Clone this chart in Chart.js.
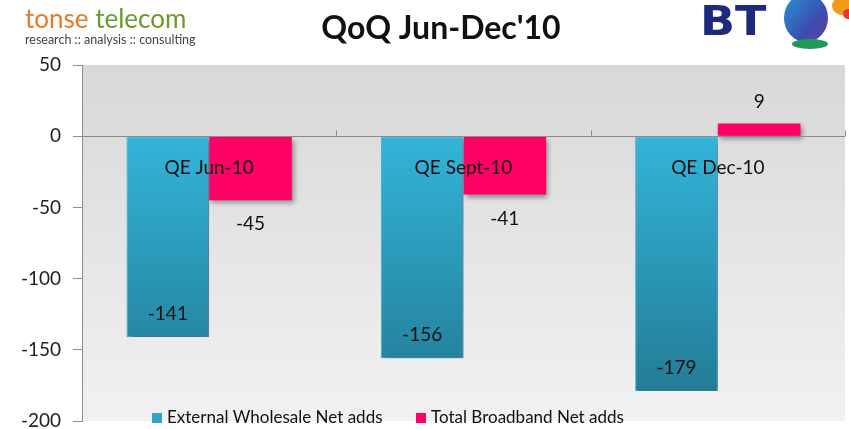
<!DOCTYPE html>
<html>
<head>
<meta charset="utf-8">
<script src="https://cdn.jsdelivr.net/npm/chart.js@4/dist/chart.umd.min.js"></script>
<style>
  body { margin: 0; background: #fff; }
  #wrap { width: 849px; height: 429px; position: relative; }
</style>
</head>
<body>
<div id="wrap"><canvas id="barChart"></canvas></div>
<script>
var quarters = ['QE Jun-10', 'QE Sept-10', 'QE Dec-10'];
var wholesale = [-141, -156, -179];
var broadband = [-45, -41, 9];
var seriesNames = ['External Wholesale Net adds', 'Total Broadband Net adds'];
var yTicks = [50, 0, -50, -100, -150, -200];

var FONT = 'Lato, "Open Sans", sans-serif';

// background of the plot area, title, logos, labels and legend
var decor = {
    id: 'decor',
    beforeDraw: function(chart) {
        var ctx = chart.ctx, a = chart.chartArea;
        var g = ctx.createLinearGradient(0, a.top, 0, a.bottom);
        g.addColorStop(0, '#d8d8d8');
        g.addColorStop(1, '#f1f1f1');
        ctx.save();
        ctx.fillStyle = g;
        ctx.fillRect(a.left, a.top, a.right - a.left, a.bottom - a.top);
        ctx.restore();
    },
    beforeDatasetsDraw: function(chart) {
        var ctx = chart.ctx;
        ctx.save();
        ctx.shadowColor = 'rgba(0,0,0,0.4)';
        ctx.shadowBlur = 5;
        ctx.shadowOffsetX = 2;
        ctx.shadowOffsetY = 3;
    },
    afterDatasetsDraw: function(chart) {
        var ctx = chart.ctx;
        ctx.restore();
        var y = chart.scales.y, x = chart.scales.x;
        var zy = Math.round(y.getPixelForValue(0)) + 0.5;
        // zero line
        ctx.save();
        ctx.strokeStyle = '#8c8c8c';
        ctx.lineWidth = 1;
        ctx.beginPath();
        ctx.moveTo(chart.chartArea.left, zy);
        ctx.lineTo(chart.chartArea.right, zy);
        // category ticks on the zero line
        for (var i = 1; i <= quarters.length; i++) {
            var tx = chart.chartArea.left + (chart.chartArea.right - chart.chartArea.left) * i / quarters.length;
            ctx.moveTo(Math.round(tx) + 0.5, zy);
            ctx.lineTo(Math.round(tx) + 0.5, zy - 6);
        }
        ctx.stroke();

        ctx.fillStyle = '#111';
        ctx.font = '19px ' + FONT;
        ctx.textAlign = 'center';
        ctx.textBaseline = 'middle';
        quarters.forEach(function(q, i) {
            ctx.fillText(q, x.getPixelForValue(i), zy + 31);
        });
        // value labels
        chart.getDatasetMeta(0).data.forEach(function(bar, i) {
            ctx.fillText(wholesale[i], bar.x, bar.y - 23);
        });
        chart.getDatasetMeta(1).data.forEach(function(bar, i) {
            var v = broadband[i];
            ctx.fillText(v, bar.x, v < 0 ? bar.y + 24 : bar.y - 22);
        });

        // legend
        var items = [[152, '#2ea6c9', seriesNames[0]], [416, '#ff0066', seriesNames[1]]];
        ctx.textAlign = 'left';
        ctx.font = '17px ' + FONT;
        items.forEach(function(it) {
            ctx.fillStyle = it[1];
            ctx.fillRect(it[0], 413, 10, 10);
            ctx.fillStyle = '#111';
            ctx.fillText(it[2], it[0] + 15, 418);
        });

        // title
        ctx.textAlign = 'center';
        ctx.font = 'bold 32px ' + FONT;
        ctx.fillText("QoQ Jun-Dec'10", 441, 29);

        // tonse telecom logo
        ctx.textAlign = 'left';
        ctx.textBaseline = 'alphabetic';
        ctx.font = '26px ' + FONT;
        ctx.fillStyle = '#ec7a24';
        ctx.fillText('tonse', 25, 28);
        ctx.fillStyle = '#6c9a2e';
        ctx.fillText('telecom', 25 + ctx.measureText('tonse ').width, 28);
        ctx.font = '12.5px ' + FONT;
        ctx.fillStyle = '#444';
        ctx.fillText('research :: analysis :: consulting', 25, 44);

        // BT logo
        ctx.save();
        ctx.translate(700, 35);
        ctx.scale(1.15, 1);
        ctx.font = 'bold 40px "DejaVu Sans", sans-serif';
        ctx.fillStyle = '#1b2a7a';
        ctx.fillText('BT', 0, 0);
        ctx.restore();
        var bg = ctx.createLinearGradient(782, 0, 830, 40);
        bg.addColorStop(0, '#2a8fd0');
        bg.addColorStop(0.6, '#3a4fb0');
        bg.addColorStop(1, '#6a3aa0');
        ctx.fillStyle = bg;
        ctx.beginPath();
        ctx.ellipse(806, 18, 22, 24, 0, 0, Math.PI * 2);
        ctx.fill();
        ctx.fillStyle = '#1d9a5a';
        ctx.beginPath();
        ctx.ellipse(810, 44, 18, 5, 0, 0, Math.PI * 2);
        ctx.fill();
        ctx.fillStyle = '#f39a1e';
        ctx.beginPath();
        ctx.ellipse(842, 6, 10, 9, 0, 0, Math.PI * 2);
        ctx.fill();
        ctx.fillStyle = '#e8342a';
        ctx.beginPath();
        ctx.ellipse(848, 14, 5, 5, 0, 0, Math.PI * 2);
        ctx.fill();
        ctx.restore();
    }
};

const ctx = document.getElementById('barChart').getContext('2d');

new Chart(ctx, {
    type: 'bar',
    data: {
        labels: quarters,
        datasets: [{
            label: seriesNames[0],
            data: wholesale,
            backgroundColor: function(c) {
                var a = c.chart.chartArea;
                if (!a) return '#2ea6c9';
                var g = c.chart.ctx.createLinearGradient(0, c.chart.scales.y.getPixelForValue(0), 0, a.bottom - 30);
                g.addColorStop(0, '#33b4d9');
                g.addColorStop(1, '#237c96');
                return g;
            },
            borderColor: '#45b6d6',
            borderWidth: 1,
            borderSkipped: false
        }, {
            label: seriesNames[1],
            data: broadband,
            backgroundColor: '#ff0066',
            borderWidth: 0
        }]
    },
    options: {
        responsive: true,
        maintainAspectRatio: false,
        animation: false,
        layout: { padding: { top: 65, right: 4, bottom: 8, left: 0 } },
        datasets: { bar: { categoryPercentage: 0.65, barPercentage: 1 } },
        plugins: {
            legend: { display: false },
            tooltip: { enabled: false }
        },
        scales: {
            x: { display: false },
            y: {
                min: -200,
                max: 50,
                afterFit: function(s) { s.width = 82; s.paddingTop = 0; s.paddingBottom = 0; },
                afterBuildTicks: function(s) { s.ticks = yTicks.map(function(v) { return { value: v }; }); },
                ticks: { color: '#222', font: { family: FONT, size: 19 }, padding: 12 },
                grid: { drawOnChartArea: false, color: '#8c8c8c', tickLength: 9 },
                border: { color: '#8c8c8c' }
            }
        }
    },
    plugins: [decor]
});
</script>
</body>
</html>
